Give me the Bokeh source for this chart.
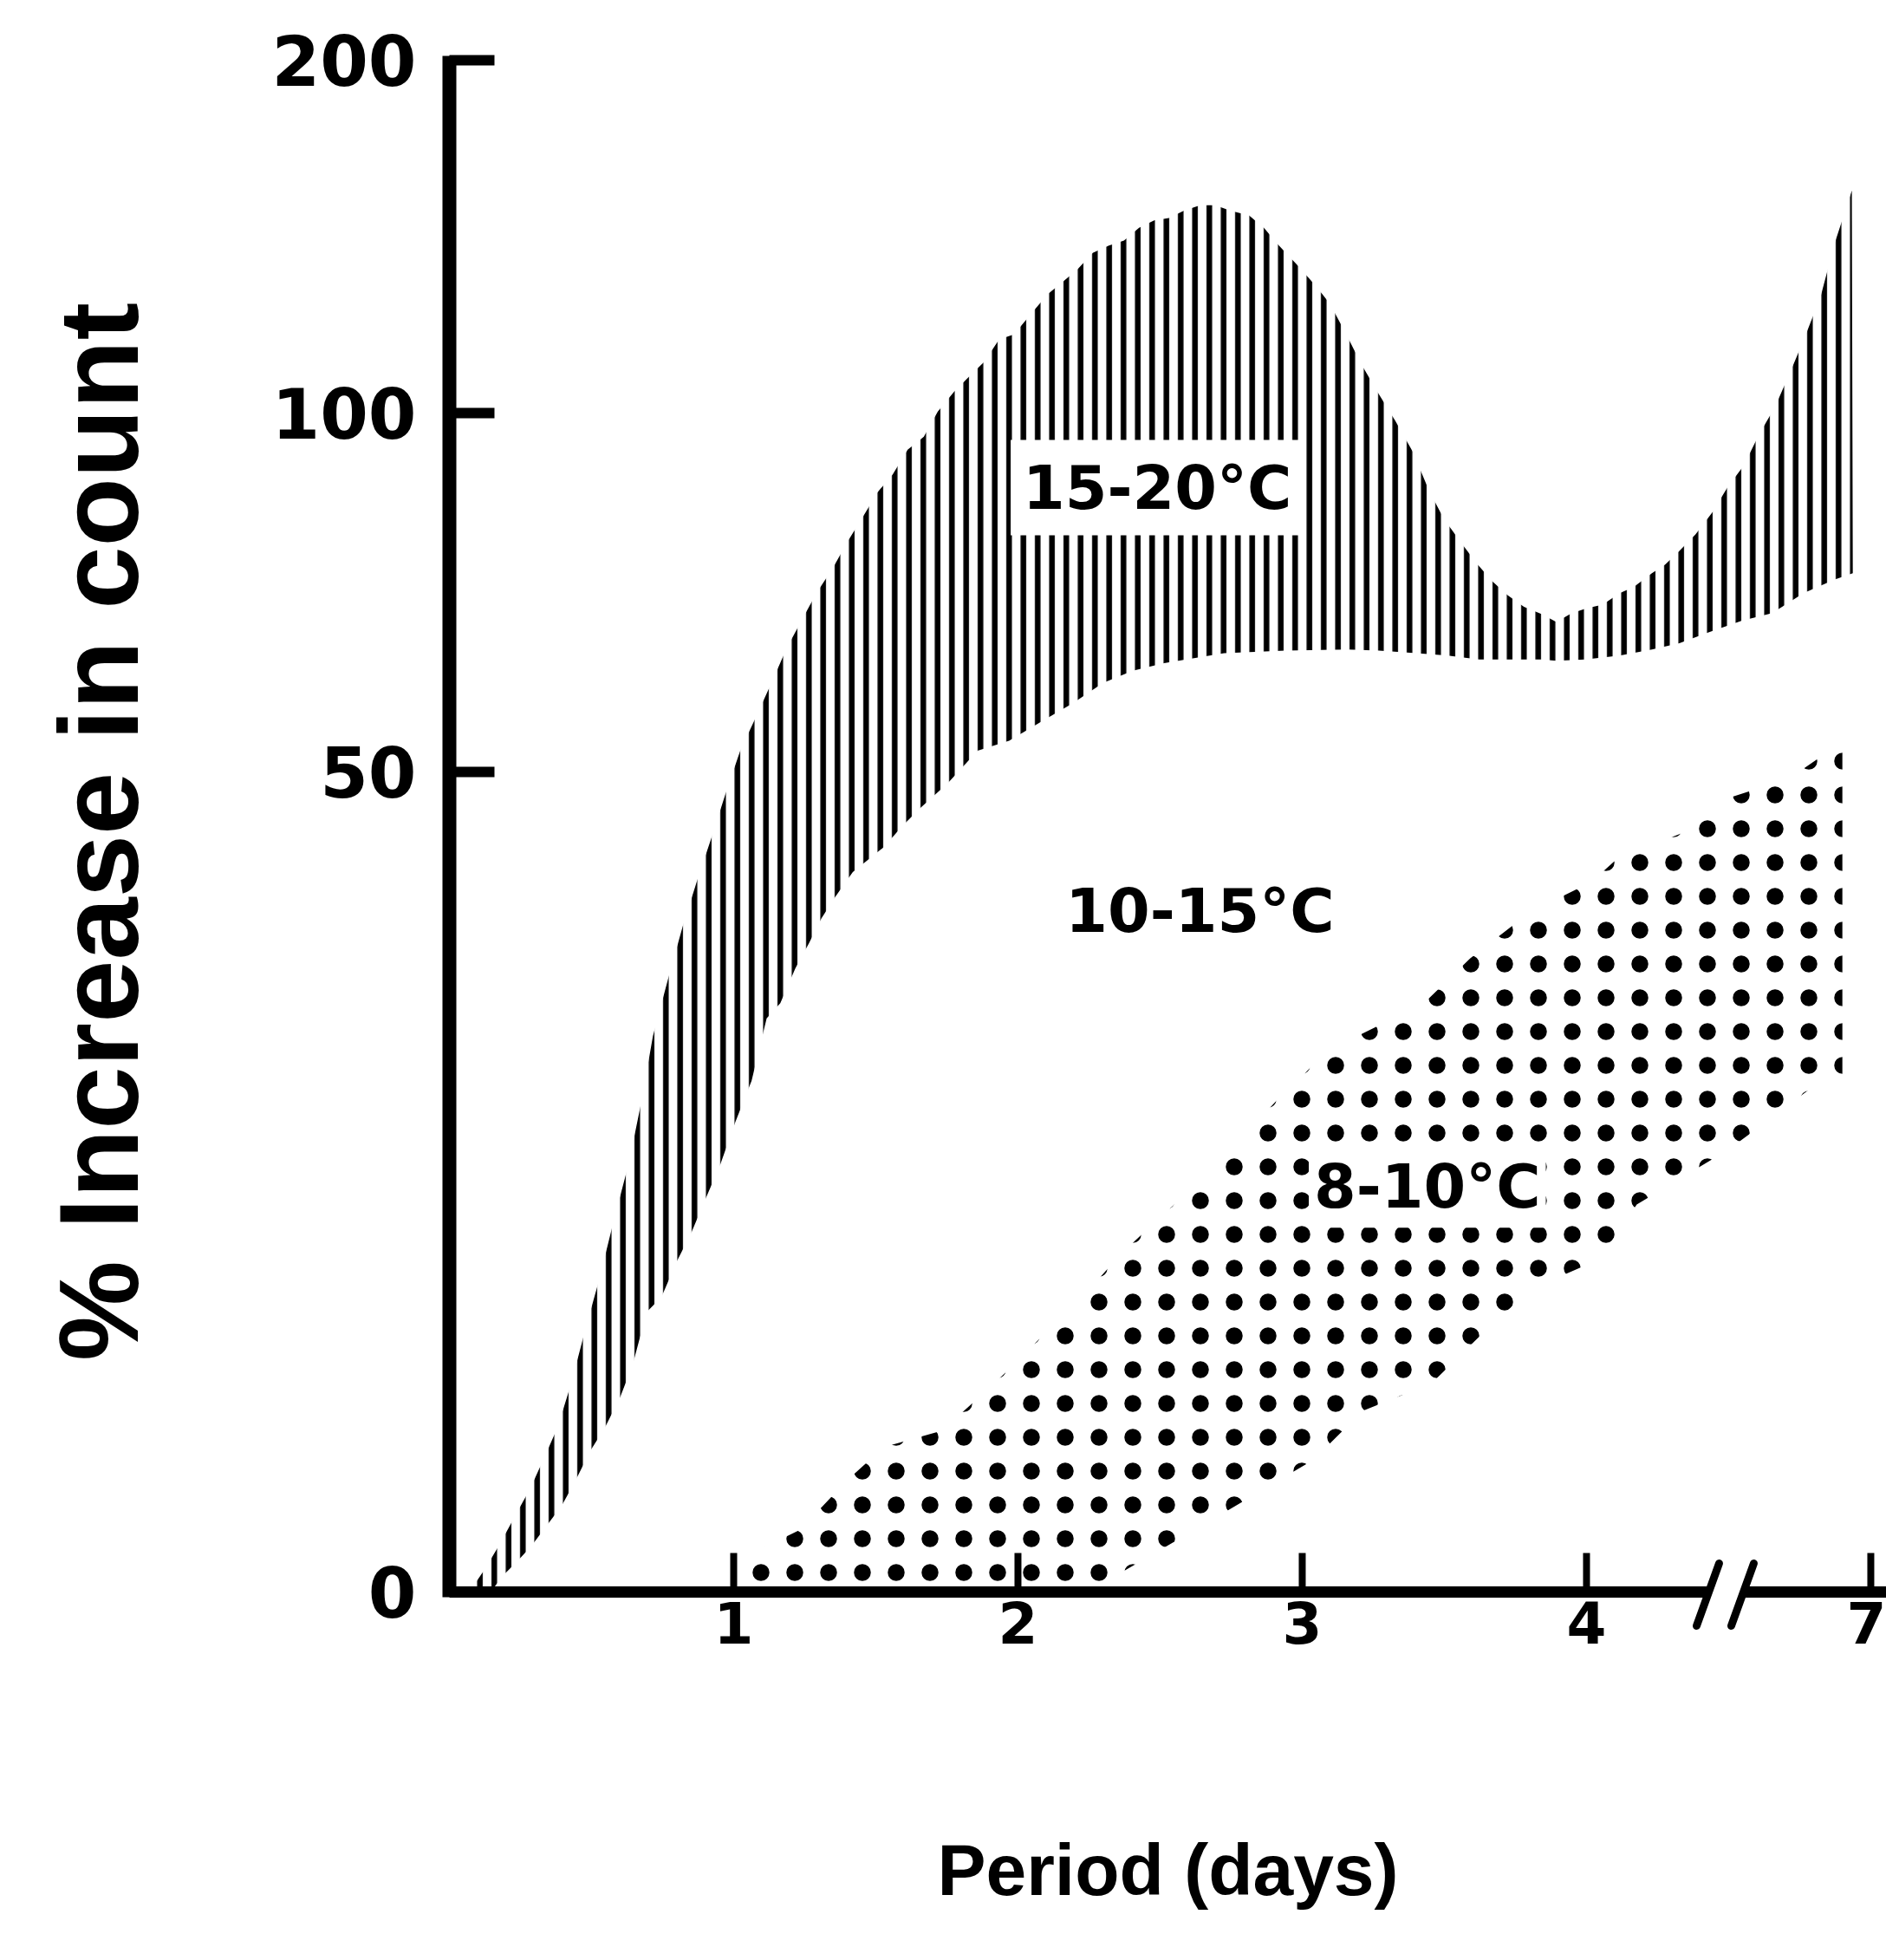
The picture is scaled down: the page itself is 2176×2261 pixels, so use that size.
import numpy as np
from bokeh.plotting import figure
from bokeh.models import Range1d, FixedTicker, Label
from bokeh.embed import file_html
from bokeh.resources import INLINE

# ---------------- data ----------------
x_tick_days = [1, 2, 3, 4, 7]
x_tick_labels = ["1", "2", "3", "4", "7"]
y_tick_values = [0, 50, 100, 200]
y_tick_labels = ["0", "50", "100", "200"]

# 15-20 °C band (percent increase vs. days)
warm_upper_days = [0.07, 0.127, 0.179, 0.236, 0.285, 0.333, 0.381, 0.430, 0.478, 0.527, 0.579, 0.632,
                   0.676, 0.716, 0.768, 0.821, 0.870, 0.922, 0.970, 1.023, 1.080, 1.133, 1.186, 1.239,
                   1.291, 1.349, 1.402, 1.454, 1.507, 1.560, 1.612, 1.669, 1.718, 1.775, 1.828, 1.881,
                   1.934, 1.986, 2.052, 2.105, 2.158, 2.210, 2.263, 2.320, 2.373, 2.426, 2.479, 2.531,
                   2.584, 2.641, 2.694, 2.747, 2.813, 2.865, 2.918, 2.984, 3.046, 3.098, 3.155, 3.208,
                   3.270, 3.327, 3.389, 3.446, 3.499, 3.569, 3.617, 3.670, 3.723, 3.780, 3.841, 3.894,
                   3.947, 4.00, 4.17, 4.35, 4.50, 4.69, 4.83, 4.98, 5.15, 5.33, 5.49, 5.66, 5.82, 5.99,
                   6.14, 6.29, 6.47, 6.62, 6.80]
warm_upper_pct = [0, 1.45, 2.97, 4.8, 6.33, 8.16, 10.06, 12.8, 16.0, 19.05, 22.7, 26.2,
                  29.95, 33.9, 37.3, 40.6, 43.3, 46.0, 48.6, 52.96, 57.8, 62.4, 67.2, 71.1,
                  74.9, 78.4, 82.2, 85.5, 89.0, 91.5, 94.9, 96.7, 100.4, 106.0, 110.3, 114.5,
                  120.9, 122.3, 128.7, 133.7, 137.2, 140.8, 145.4, 147.5, 148.9, 152.5, 154.6, 155.3,
                  157.4, 158.9, 158.9, 157.4, 156.0, 152.5, 147.5, 141.8, 136.2, 130.9, 122.3, 113.8,
                  105.3, 98.95, 94.6, 89.2, 85.2, 81.4, 78.9, 76.5, 74.6, 73.0, 72.0, 70.9,
                  72.1, 72.8, 73.3, 74.9, 75.8, 77.7, 78.9, 80.8, 83.1, 86.2, 89.7, 92.7, 97.0, 101.8,
                  111.0, 120.6, 133.0, 148.2, 163.1]
warm_lower_days = [0.145, 0.188, 0.241, 0.289, 0.342, 0.395, 0.443, 0.496, 0.548, 0.601, 0.645, 0.694,
                   0.746, 0.799, 0.852, 0.900, 0.953, 1.006, 1.063, 1.116, 1.164, 1.217, 1.265, 1.309,
                   1.357, 1.419, 1.529, 1.590, 1.656, 1.753, 1.858, 1.969, 2.087, 2.193, 2.298, 2.404,
                   2.514, 2.725, 2.940, 3.160, 3.270, 3.402, 3.512, 3.622, 3.732, 3.841, 3.894, 3.995,
                   4.35, 4.69, 4.98, 5.30, 5.64, 5.96, 6.29, 6.62, 6.81]
warm_lower_pct = [0, 0.99, 1.91, 2.82, 4.04, 5.26, 6.78, 8.61, 10.06, 11.89, 13.87, 17.07,
                  17.99, 20.12, 21.95, 23.93, 26.07, 28.66, 31.17, 34.98, 35.9, 38.03, 39.56, 41.08,
                  42.38, 43.9, 45.43, 46.65, 47.79, 49.31, 52.96, 54.36, 57.14, 59.58, 62.37, 64.11,
                  65.16, 66.55, 66.9, 67.07, 66.9, 66.55, 66.2, 65.68, 65.68, 65.68, 65.5, 65.68,
                  66.2, 67.07, 67.94, 69.5, 71.08, 72.12, 74.9, 76.8, 77.7]

# 8-10 °C band
cool_upper_days = [1.0, 1.037, 1.235, 1.397, 1.529, 1.718, 1.810, 1.903, 1.995, 2.078, 2.171, 2.250,
                   2.329, 2.412, 2.492, 2.584, 2.681, 2.760, 2.839, 2.918, 2.997, 3.081, 3.428, 3.591,
                   3.802, 4.05, 4.33, 5.01, 5.33, 6.14, 6.70]
cool_upper_pct = [0, 2.13, 3.81, 6.78, 8.84, 9.76, 11.05, 12.5, 14.02, 15.47, 16.92, 18.45,
                  19.97, 21.42, 22.71, 24.16, 25.69, 27.13, 28.66, 30.11, 31.4, 32.93, 35.9, 38.64,
                  41.46, 43.29, 44.74, 46.27, 48.1, 49.6, 54.2]
cool_lower_days = [1.0, 2.245, 2.624, 3.041, 3.213, 3.455, 3.617, 3.802, 4.13, 4.53, 5.50, 6.37, 6.70]
cool_lower_pct = [0, 0, 3.81, 8.08, 11.05, 12.73, 15.47, 18.45, 20.27, 23.63, 26.98, 30.72, 31.4]

band_labels = ["15-20°C", "10-15°C", "8-10°C"]
label_days = [2.49, 2.64, 3.44]
label_pct = [89.6, 41.5, 24.7]

# ---------------- broken-axis scales ----------------
X_BREAK_DAYS = [0, 4, 7]
X_BREAK_POS = [0, 4, 5]
Y_BREAK_VALS = [0, 50, 100, 200]
Y_BREAK_POS = [0, 946, 1360, 1767]


def xpos(d):
    return np.interp(np.asarray(d, float), X_BREAK_DAYS, X_BREAK_POS)


def ypos(v):
    return np.interp(np.asarray(v, float), Y_BREAK_VALS, Y_BREAK_POS)


FONT = "DejaVu Sans"
TITLE_FONT = "Liberation Sans"
W, H = 2176, 2261
LEFT, TOP = 518, 22
AXIS_TOP = 1772        # y-axis line ends here (pixels above zero line)
BASE = 1836            # canvas row of the zero line
Y_PAD = 60             # frame extends a little below the zero line
BOTTOM = H - BASE - Y_PAD
X_END = 5.055
PXX = X_END / (W - LEFT)   # one pixel in x units (y units are pixels)

p = figure(width=W, height=H, output_backend="svg", toolbar_location=None,
           x_range=Range1d(0, X_END), y_range=Range1d(-Y_PAD, BASE - TOP),
           min_border_left=LEFT, min_border_right=0, min_border_top=TOP,
           min_border_bottom=BOTTOM)
p.outline_line_color = None
p.grid.visible = False
p.background_fill_color = "white"

# bands
wx = np.concatenate([xpos(warm_upper_days), xpos(warm_lower_days)[::-1]])
wy = np.concatenate([ypos(warm_upper_pct), ypos(warm_lower_pct)[::-1]])
p.patch(wx, wy, fill_color="white", line_color=None,
        hatch_pattern="vertical_line", hatch_color="black", hatch_scale=16.5, hatch_weight=6.5)

cx = np.concatenate([xpos(cool_upper_days), xpos(cool_lower_days)[::-1]])
cy = np.concatenate([ypos(cool_upper_pct), ypos(cool_lower_pct)[::-1]])
p.patch(cx, cy, fill_color="white", line_color=None,
        hatch_pattern="dot", hatch_color="black", hatch_scale=39, hatch_weight=4.5)

# labels
pads = [14, 0, 6]
bgs = ["white", None, "white"]
for t, d, v, pad, bg in zip(band_labels, label_days, label_pct, pads, bgs):
    p.add_layout(Label(x=float(xpos(d)), y=float(ypos(v)), text=t, text_align="center",
                       text_baseline="middle", text_font=FONT, text_font_style="bold",
                       text_font_size="70px", text_color="black",
                       background_fill_color=bg, padding=pad))

# ---------------- x axis: zero line with a break, ticks pointing up ----------------
brk = 4.5
s_dx, s_lo, s_hi = 26, -39, 33           # slash geometry in pixels
slash_offs = [-37, 3]                    # bottom x-offsets of the two slashes (pixels)
cross = [o + s_dx * (0 - s_lo) / (s_hi - s_lo) for o in slash_offs]
p.segment(x0=[0, brk + cross[1] * PXX], y0=[0, 0], x1=[brk + cross[0] * PXX, X_END], y1=[0, 0],
          line_color="black", line_width=13)
tick_x = xpos(x_tick_days)
p.segment(x0=tick_x, y0=np.zeros(len(tick_x)), x1=tick_x, y1=np.full(len(tick_x), 45),
          line_color="black", line_width=8)
p.segment(x0=[brk + o * PXX for o in slash_offs], y0=[s_lo] * 2,
          x1=[brk + (o + s_dx) * PXX for o in slash_offs], y1=[s_hi] * 2,
          line_color="black", line_width=9, line_cap="round")

xa = p.xaxis[0]
xa.ticker = FixedTicker(ticks=list(tick_x))
xa.major_label_overrides = {float(t): s for t, s in zip(tick_x, x_tick_labels)}
xa.axis_label = "Period (days)"
xa.axis_line_color = None
xa.major_tick_line_color = None
xa.minor_tick_line_color = None
xa.major_tick_in = 0
xa.major_tick_out = 0
xa.major_label_standoff = -50
xa.major_label_text_font_size = "66px"
xa.axis_label_text_font = TITLE_FONT
xa.axis_label_text_font_size = "84px"
xa.axis_label_standoff = 211

ya = p.yaxis[0]
ya.ticker = FixedTicker(ticks=list(ypos(y_tick_values)))
ya.major_label_overrides = {float(ypos(v)): s for v, s in zip(y_tick_values, y_tick_labels)}
ya.axis_label = "% Increase in count"
ya.bounds = (-6, AXIS_TOP)
ya.axis_line_color = "black"
ya.axis_line_width = 16
ya.major_tick_line_color = "black"
ya.minor_tick_line_color = None
ya.major_tick_in = 52
ya.major_tick_out = 0
ya.major_tick_line_width = 12
ya.major_label_standoff = 38
ya.major_label_text_font_size = "80px"
ya.axis_label_text_font = TITLE_FONT
ya.axis_label_text_font_size = "130px"
ya.axis_label_standoff = 124

for ax in (xa, ya):
    ax.major_label_text_font = FONT
    ax.major_label_text_font_style = "bold"
    ax.major_label_text_color = "black"
    ax.axis_label_text_font_style = "bold"
    ax.axis_label_text_color = "black"

open("out.html", "w").write(file_html(p, INLINE))
